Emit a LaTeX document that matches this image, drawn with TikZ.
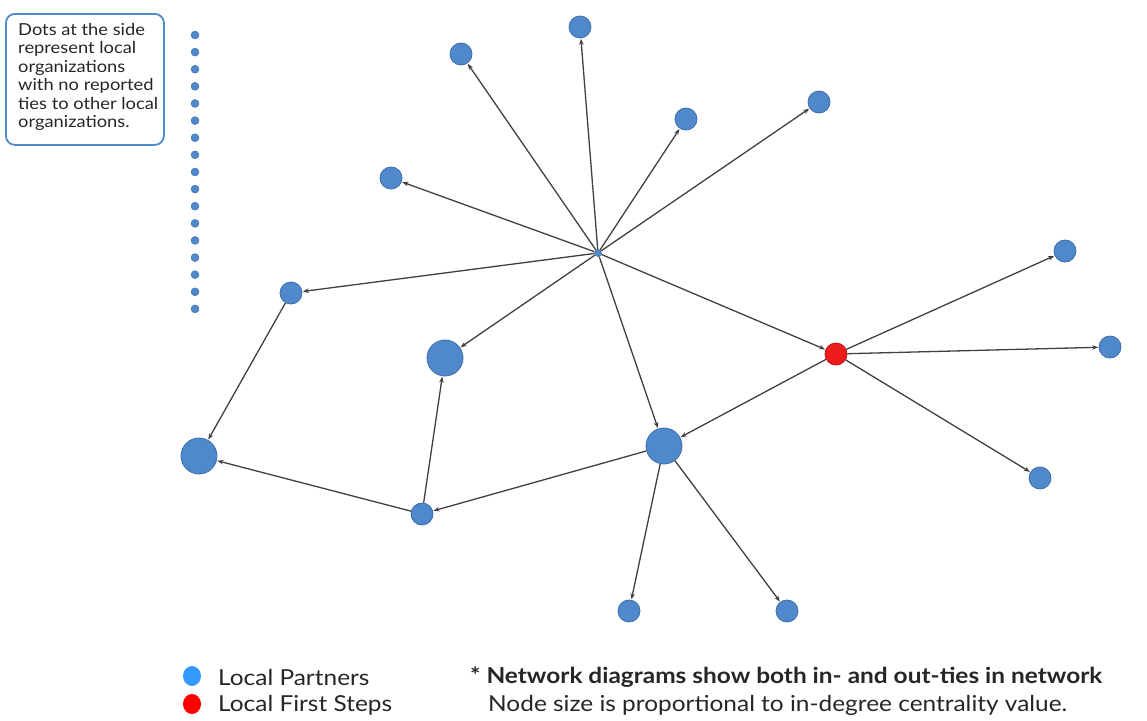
\documentclass[tikz,border=0pt]{standalone}
\usepackage{fontspec}
\setmainfont{Lato}[FakeStretch=1.11]
\usetikzlibrary{arrows.meta,shapes.geometric}
\definecolor{nodeblue}{HTML}{5089CB}
\definecolor{nodeborder}{HTML}{3C6EA8}
\definecolor{nodered}{HTML}{EE1C1C}
\definecolor{redborder}{HTML}{B81414}
\definecolor{edgegray}{HTML}{404040}
\definecolor{boxblue}{HTML}{4F8AC9}
\definecolor{legblue}{HTML}{3399FF}
\definecolor{legred}{HTML}{FF0000}
\tikzset{
  org/.style={circle, fill=nodeblue, draw=nodeborder, line width=0.8pt, inner sep=0pt, minimum size=22pt},
  orgbig/.style={org, minimum size=36pt},
  orgred/.style={circle, fill=nodered, draw=redborder, line width=0.8pt, inner sep=0pt, minimum size=22pt},
  hubdot/.style={circle, fill=nodeblue, draw=nodeborder, line width=0.5pt, inner sep=0pt, minimum size=7pt},
  isodot/.style={circle, fill=nodeblue, draw=nodeborder, line width=0.4pt, inner sep=0pt, minimum size=8pt},
  tie/.style={draw=edgegray, line width=1.3pt, -{Stealth[length=6pt,width=4.5pt]}, shorten >=0.5pt},
  legdot/.style={ellipse, inner sep=0pt, minimum width=18pt, minimum height=20pt},
  legtext/.style={anchor=west, inner sep=0pt, font=\fontsize{22}{26}\selectfont, text=black!85},
}
\begin{document}
\begin{tikzpicture}[x=1pt,y=-1pt]
\useasboundingbox (0,0) rectangle (1147,720);
% explanatory box
\node[draw=boxblue, line width=1.8pt, rounded corners=9pt, anchor=north west,
      minimum width=158pt, minimum height=131pt, inner sep=0pt] (box) at (5,13) {};
\node[anchor=west, align=left, inner sep=0pt, font=\fontsize{16.5}{18.4}\selectfont, text=black!85] (boxtext) at (18,77)
 {Dots at the side\\represent local\\organizations\\with no reported\\ties to other local\\organizations.};
% isolates
\foreach \i in {0,...,16} {
  \node[isodot] (iso\i) at (195,{35+17.12*\i}) {};
}
% network nodes
\node[hubdot] (H) at (598,253) {};
\node[org] (A) at (580,27) {};
\node[org] (B) at (461,54) {};
\node[org] (C) at (686,119) {};
\node[org] (D) at (819,102) {};
\node[org] (E) at (391,178) {};
\node[org] (F) at (291,293) {};
\node[orgbig] (G) at (445,358) {};
\node[orgbig] (I) at (199,456) {};
\node[orgbig] (J) at (664,446) {};
\node[org] (K) at (422,514) {};
\node[orgred] (R) at (836,354) {};
\node[org] (L) at (1065,251) {};
\node[org] (M) at (1110,347) {};
\node[org] (N) at (1040,478) {};
\node[org] (O) at (629,611) {};
\node[org] (P) at (787,611) {};
% ties
\foreach \t in {A,B,C,D,E,F,G,J,R} { \draw[tie] (H) -- (\t); }
\foreach \t in {L,M,N,J} { \draw[tie] (R) -- (\t); }
\draw[tie] (F) -- (I);
\draw[tie] (K) -- (I);
\draw[tie] (K) -- (G);
\draw[tie] (J) -- (K);
\draw[tie] (J) -- (O);
\draw[tie] (J) -- (P);
% legend
\node[legdot, fill=legblue] (lb) at (192,676) {};
\node[legdot, fill=legred] (lr) at (192,704) {};
\node[legtext] (lbt) at (218,677) {Local Partners};
\node[legtext] (lrt) at (218,705) {Local First Steps};
\node[legtext, font=\fontsize{22}{26}\selectfont\bfseries] (n1) at (470,677) {* Network diagrams show both in- and out-ties in network};
\node[legtext] (n2) at (488,705) {Node size is proportional to in-degree centrality value.};
\end{tikzpicture}
\end{document}
